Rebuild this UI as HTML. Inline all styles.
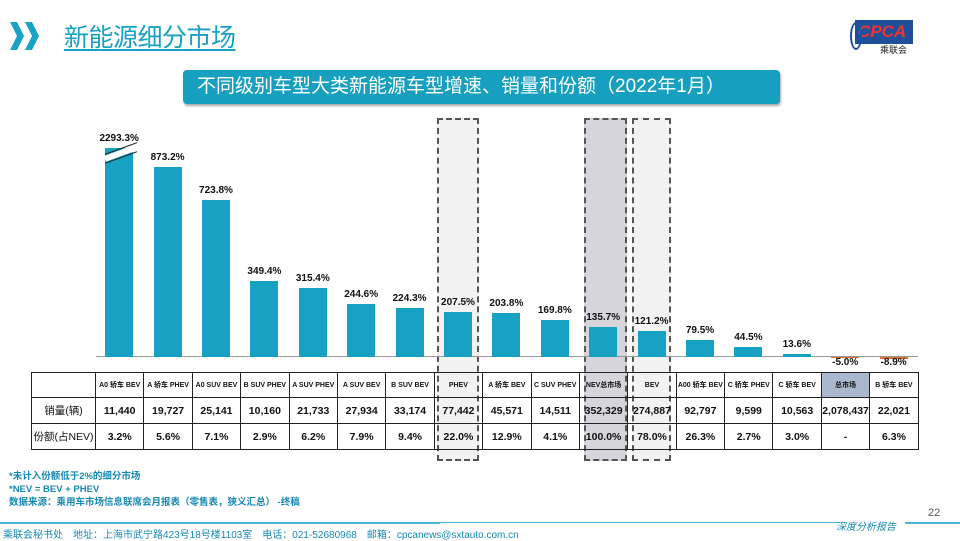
<!DOCTYPE html><html><head><meta charset="utf-8"><style>
*{margin:0;padding:0;box-sizing:border-box}
body{width:960px;height:540px;background:#fff;position:relative;overflow:hidden;font-family:"Liberation Sans","Noto Sans CJK SC",sans-serif}
.a{position:absolute}
.bar{position:absolute;background:#17a1c3;width:28px}
.lab{position:absolute;width:60px;text-align:center;font-size:10px;font-weight:bold;color:#111}
table{position:absolute;left:31px;top:372px;border-collapse:collapse;table-layout:fixed}
td{border:1px solid #222;text-align:center;font-weight:bold;color:#111;padding:0;overflow:hidden;white-space:nowrap}
tr.h td{height:25px;font-size:7px}
tr.r td{height:26px;font-size:10.5px}
td.f{font-weight:normal;font-size:11px}
.box{position:absolute;border:2px dashed #555;top:118px;height:343px}
</style></head><body>
<div class="a" style="left:10px;top:22px;width:14px;height:28px;background:#1aa3c4;clip-path:polygon(0 0,50% 0,100% 50%,50% 100%,0 100%,50% 50%)"></div>
<div class="a" style="left:25px;top:22px;width:14px;height:28px;background:#1aa3c4;clip-path:polygon(0 0,50% 0,100% 50%,50% 100%,0 100%,50% 50%)"></div>
<div class="a" style="left:64px;top:18px;font-size:25px;color:#17a1c3;text-decoration:underline;text-underline-offset:3px;text-decoration-thickness:2px;letter-spacing:-0.5px">新能源细分市场</div>
<div class="a" style="left:855px;top:20px;width:58px;height:24px;background:#1f4f9a"></div>
<div class="a" style="left:858px;top:22px;font-size:17px;font-style:italic;color:#e33;font-weight:bold">CPCA</div>
<div class="a" style="left:880px;top:43px;font-size:9px;color:#222">乘联会</div>
<div class="a" style="left:850px;top:22px;width:12px;height:28px;border:2px solid #1f4f9a;border-radius:50%"></div>
<div class="a" style="left:183px;top:70px;width:597px;height:34px;background:#179fbf;border-radius:4px;color:#fff;font-size:19px;line-height:34px;padding-left:14px;box-shadow:1px 2px 2px #aaa">不同级别车型大类新能源车型增速、销量和份额（2022年1月）</div>
<div class="box" style="left:437px;width:42px;background:#f2f2f2"></div>
<div class="box" style="left:584px;width:43px;background:#d6d5dc"></div>
<div class="box" style="left:632px;width:39px;background:#f2f2f2"></div>
<div class="a" style="left:96px;top:356px;width:822px;height:1px;background:#999"></div>
<div id="bars"></div>
<table id="t"></table>
<div class="a" style="left:9px;top:470px;font-size:9.5px;color:#1689b3;line-height:13px;font-weight:bold">*未计入份额低于2%的细分市场<br>*NEV = BEV + PHEV<br>数据来源：乘用车市场信息联席会月报表（零售表，狭义汇总） -终稿</div>
<div class="a" style="left:928px;top:507px;font-size:11px;color:#555">22</div>
<div class="a" style="left:0;top:522px;width:440px;height:2px;background:#4bb3d3"></div>
<div class="a" style="left:440px;top:522px;width:400px;height:1px;background:#4bb3d3"></div>
<div class="a" style="left:905px;top:522px;width:55px;height:2px;background:#4bb3d3"></div>
<div class="a" style="left:836px;top:518px;font-size:10px;color:#1689b3;font-style:italic">深度分析报告</div>
<div class="a" style="left:3px;top:526px;font-size:10px;color:#1689b3">乘联会秘书处　地址：上海市武宁路423号18号楼1103室　电话：021-52680968　邮箱：cpcanews@sxtauto.com.cn</div>
<script>
var v=[2293.3,873.2,723.8,349.4,315.4,244.6,224.3,207.5,203.8,169.8,135.7,121.2,79.5,44.5,13.6,-5.0,-8.9];
var n=["A0 轿车 BEV","A 轿车 PHEV","A0 SUV BEV","B SUV PHEV","A SUV PHEV","A SUV BEV","B SUV BEV","PHEV","A 轿车 BEV","C SUV PHEV","NEV总市场","BEV","A00 轿车 BEV","C 轿车 PHEV","C 轿车 BEV","总市场","B 轿车 BEV"];
var s=["11,440","19,727","25,141","10,160","21,733","27,934","33,174","77,442","45,571","14,511","352,329","274,887","92,797","9,599","10,563","2,078,437","22,021"];
var p=["3.2%","5.6%","7.1%","2.9%","6.2%","7.9%","9.4%","22.0%","12.9%","4.1%","100.0%","78.0%","26.3%","2.7%","3.0%","-","6.3%"];
var h="",base=357,k=0.2176;
for(var i=0;i<17;i++){var c=95+48.4*(i+0.5);var hh=i==0?209:Math.round(v[i]*k);
if(v[i]>0){h+='<div class="bar" style="left:'+(c-14)+'px;top:'+(base-hh)+'px;height:'+hh+'px"></div>';
h+='<div class="lab" style="left:'+(c-30)+'px;top:'+(base-hh-15)+'px">'+v[i].toFixed(1)+'%</div>';}
else{h+='<div class="a" style="left:'+(c-14)+'px;top:'+base+'px;width:28px;height:'+(i==15?1:2)+'px;background:#e07030"></div>';
h+='<div class="lab" style="left:'+(c-30)+'px;top:357px">'+v[i].toFixed(1)+'%</div>';}}
h+='<div class="a" style="left:104px;top:150px;width:34px;height:6px;background:#fff;transform:rotate(-20deg)"></div>';
h+='<div class="a" style="left:104px;top:148px;width:34px;height:1px;background:#222;transform:rotate(-20deg)"></div>';
h+='<div class="a" style="left:104px;top:157px;width:34px;height:1px;background:#222;transform:rotate(-20deg)"></div>';
document.getElementById("bars").innerHTML=h;
var t='<colgroup><col style="width:64px">'+'<col style="width:48.4px">'.repeat(17)+'</colgroup>';
t+='<tr class="h"><td></td>'+n.map(function(x,i){return '<td'+(i==15?' style="background:#a9b8cc"':'')+'>'+x+'</td>'}).join('')+'</tr>';
t+='<tr class="r"><td class="f">销量(辆)</td>'+s.map(function(x){return '<td>'+x+'</td>'}).join('')+'</tr>';
t+='<tr class="r"><td class="f">份额(占NEV)</td>'+p.map(function(x){return '<td>'+x+'</td>'}).join('')+'</tr>';
document.getElementById("t").innerHTML=t;
</script>
</body></html>
